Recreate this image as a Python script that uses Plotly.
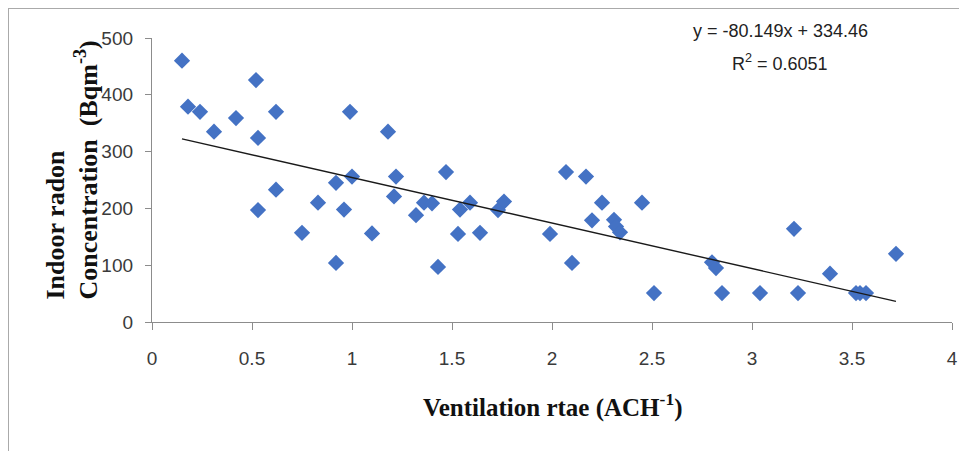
import plotly.graph_objects as go

# ventilation rate (ACH^-1) and indoor radon concentration (Bq m^-3)
ventilation = [0.15, 0.18, 0.24, 0.31, 0.42, 0.52, 0.53, 0.53, 0.62, 0.62,
               0.75, 0.83, 0.92, 0.92, 0.96, 0.99, 1.00, 1.10, 1.18, 1.22,
               1.21, 1.32, 1.36, 1.40, 1.43, 1.47, 1.54, 1.53, 1.59, 1.64,
               1.73, 1.76, 1.99, 2.07, 2.10, 2.17, 2.20, 2.25, 2.31, 2.32,
               2.34, 2.45, 2.51, 2.80, 2.82, 2.85, 3.04, 3.21, 3.23, 3.39,
               3.52, 3.54, 3.57, 3.72]
radon = [460, 379, 370, 335, 359, 426, 324, 197, 370, 233,
         157, 210, 245, 104, 198, 370, 256, 156, 335, 256,
         221, 188, 210, 209, 97, 264, 198, 155, 210, 157,
         197, 212, 155, 264, 104, 256, 179, 210, 180, 168,
         158, 210, 51, 105, 95, 51, 51, 164, 51, 85,
         51, 51, 51, 120]

# linear trendline as reported on the chart
slope = -80.149
intercept = 334.46
r_squared = 0.6051

x_ticks = [0, 0.5, 1, 1.5, 2, 2.5, 3, 3.5, 4]
x_tick_labels = ['0', '0.5', '1', '1.5', '2', '2.5', '3', '3.5', '4']
y_ticks = [0, 100, 200, 300, 400, 500]

# page has an 8px body margin, so the figure is shrunk and positions shifted by it
OFF = 8
W, H = 967 - OFF, 451 - OFF
# plot area edges in window pixels
X0, X1, Y0, Y1 = 152, 952, 38, 322
L, R, T, B = X0 - OFF, W - (X1 - OFF), Y0 - OFF, H - (Y1 - OFF)
PW, PH = X1 - X0, Y1 - Y0

def px_x(p):
	return (p - X0) / PW

def px_y(p):
	return (Y1 - p) / PH

trend_x = [min(ventilation), max(ventilation)]
trend_y = [slope * v + intercept for v in trend_x]

fig = go.Figure()
fig.add_trace(go.Scatter(x=ventilation, y=radon, mode='markers',
						 marker=dict(symbol='diamond', size=12.5, color='#4472C4', line=dict(width=0)),
						 showlegend=False))
fig.add_trace(go.Scatter(x=trend_x, y=trend_y, mode='lines',
						 line=dict(color='#1a1a1a', width=1.4), showlegend=False))

axis_col = '#8c8c8c'
tick_font = dict(family='Liberation Sans, Arial', size=19, color='#3a3a3a')
fig.update_xaxes(range=[0, 4], tickvals=x_ticks, ticktext=x_tick_labels, showgrid=False, zeroline=False,
				 showline=True, linecolor=axis_col, linewidth=1.3, ticks='outside', ticklen=7,
				 tickcolor=axis_col, tickwidth=1.3, tickfont=tick_font, ticklabelstandoff=12,
				 automargin=False)
fig.update_yaxes(range=[0, 500], tickvals=y_ticks, showgrid=False, zeroline=False,
				 showline=True, linecolor=axis_col, linewidth=1.3, ticks='outside', ticklen=6,
				 tickcolor=axis_col, tickwidth=1.3, tickfont=tick_font, ticklabelstandoff=8,
				 automargin=False)

title_font = dict(family='Liberation Serif, Times New Roman', size=25, color='#111111')
eq_font = dict(family='Liberation Sans, Arial', size=18, color='#222222')

fig.update_layout(
	width=W, height=H,
	margin=dict(l=L, r=R, t=T, b=B, autoexpand=False),
	paper_bgcolor='white', plot_bgcolor='white',
	annotations=[
		dict(text='<b>Ventilation rtae (ACH<sup>-1</sup>)</b>', xref='paper', yref='paper',
			 x=0.5, y=px_y(405), xanchor='center', yanchor='middle', showarrow=False, font=title_font),
		dict(text='<b>Indoor radon<br>Concentration  (Bqm<sup>-3</sup>)</b>', xref='paper', yref='paper',
			 x=px_x(72), y=px_y(302), xanchor='center', yanchor='bottom', textangle=-90, align='left',
			 showarrow=False, font=dict(family='Liberation Serif, Times New Roman', size=26, color='#111111')),
		dict(text='y = %.3fx + %.2f' % (slope, intercept), xref='paper', yref='paper',
			 x=px_x(780), y=px_y(31), xanchor='center', yanchor='middle', showarrow=False, font=eq_font),
		dict(text='R<sup>2</sup> = %.4f' % r_squared, xref='paper', yref='paper',
			 x=px_x(780), y=px_y(62), xanchor='center', yanchor='middle', showarrow=False, font=eq_font),
	],
	shapes=[
		dict(type='line', xref='paper', yref='paper', x0=px_x(8), x1=px_x(967), y0=px_y(8), y1=px_y(8),
			 line=dict(color='#aaaaaa', width=2)),
		dict(type='line', xref='paper', yref='paper', x0=px_x(8), x1=px_x(8), y0=px_y(8), y1=px_y(451),
			 line=dict(color='#aaaaaa', width=2)),
	],
)

fig.write_html('out.html')
